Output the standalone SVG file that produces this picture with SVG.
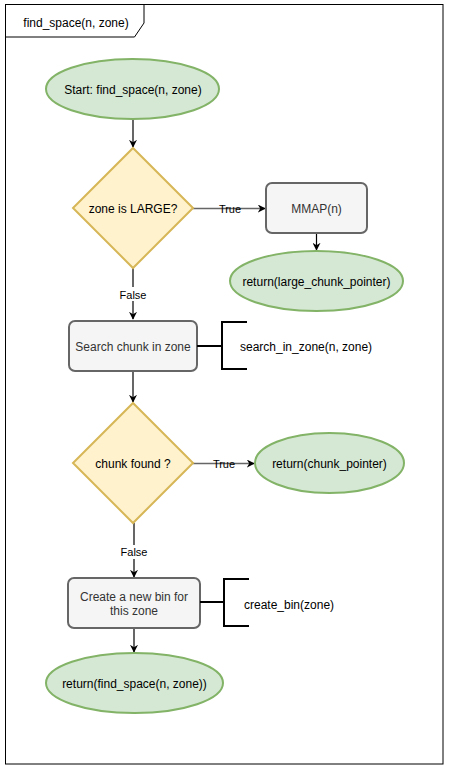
<svg xmlns="http://www.w3.org/2000/svg" width="449" height="769" viewBox="0 0 449 769">
<defs>
<marker id="arr" viewBox="0 0 10 10" refX="9" refY="5" markerWidth="8" markerHeight="8" markerUnits="userSpaceOnUse" orient="auto">
<path d="M0,0 L10,5 L0,10 L3,5 Z" fill="#000"/>
</marker>
<style>
text{font-family:"Liberation Sans",Arial,sans-serif;font-size:12px;fill:#000;text-anchor:middle}
.term{fill:#d5e8d4;stroke:#82b366;stroke-width:2}
.dec{fill:#fff2cc;stroke:#d6b656;stroke-width:2}
.proc{fill:#f5f5f5;stroke:#666666;stroke-width:2}
.proc-t{fill:#333333}
.edge{fill:none;stroke:#000;stroke-width:1.2}
.gedge{fill:none;stroke:#666666;stroke-width:1.5}
.br{fill:none;stroke:#000;stroke-width:2}
.lbl{font-size:11px}
.left{text-anchor:start}
</style>
</defs>
<rect width="449" height="769" fill="#fff"/>
<g id="frame">
<rect x="5.5" y="4.5" width="437.5" height="759.5" fill="none" stroke="#000" stroke-width="1"/>
<path d="M5.5,37 H134.5 L144,23 V4.5" fill="none" stroke="#000" stroke-width="1"/>
<text x="76" y="27" style="font-size:12px">find_space(n, zone)</text>
</g>
<g id="connectors">
<path class="edge" d="M133,119 V147" marker-end="url(#arr)"/>
<path class="gedge" d="M193,208.5 H265" marker-end="url(#arr)"/>
<path class="edge" d="M316.5,233 V250" marker-end="url(#arr)"/>
<path class="edge" d="M133,268 V319" marker-end="url(#arr)"/>
<path class="edge" d="M133,371 V402" marker-end="url(#arr)"/>
<path class="gedge" d="M193,463.5 H254" marker-end="url(#arr)"/>
<path class="edge" d="M134,523 V577" marker-end="url(#arr)"/>
<path class="edge" d="M134,628 V652" marker-end="url(#arr)"/>
<text class="lbl" x="230" y="212.5">True</text>
<rect x="118" y="287" width="30" height="14" fill="#fff"/>
<text class="lbl" x="133" y="298.5">False</text>
<text class="lbl" x="224" y="467.5">True</text>
<rect x="119" y="545" width="30" height="14" fill="#fff"/>
<text class="lbl" x="134" y="556">False</text>
</g>
<g id="start">
<ellipse class="term" cx="132.5" cy="89" rx="86.5" ry="30"/>
<text x="133" y="93.5">Start: find_space(n, zone)</text>
</g>
<g id="is-large">
<path class="dec" d="M133,148 L193,208 L133,268 L73,208 Z"/>
<text x="133" y="213">zone is LARGE?</text>
</g>
<g id="mmap">
<rect class="proc" x="266" y="183" width="101" height="50" rx="6"/>
<text class="proc-t" x="316.5" y="212.5">MMAP(n)</text>
</g>
<g id="ret-large">
<ellipse class="term" cx="316.5" cy="281" rx="86.5" ry="30"/>
<text x="316.5" y="285.5">return(large_chunk_pointer)</text>
</g>
<g id="search">
<rect class="proc" x="69" y="321" width="128" height="50" rx="6"/>
<text class="proc-t" x="133" y="350.5">Search chunk in zone</text>
</g>
<g id="search-note">
<path class="br" d="M197,346 H222 M247,322 H222 V369 H247"/>
<text class="left" x="240" y="350.5">search_in_zone(n, zone)</text>
</g>
<g id="found">
<path class="dec" d="M133,403 L193,463 L133,523 L73,463 Z"/>
<text x="133" y="467.5">chunk found ?</text>
</g>
<g id="ret-chunk">
<ellipse class="term" cx="329.5" cy="463" rx="74.5" ry="30"/>
<text x="329.5" y="467.5">return(chunk_pointer)</text>
</g>
<g id="create">
<rect class="proc" x="68" y="578" width="132" height="50" rx="6"/>
<text class="proc-t" x="134" y="601">Create a new bin for</text>
<text class="proc-t" x="134" y="615">this zone</text>
</g>
<g id="create-note">
<path class="br" d="M200,602 H224 M249,579 H224 V626 H249"/>
<text class="left" x="244" y="609">create_bin(zone)</text>
</g>
<g id="ret-find">
<ellipse class="term" cx="134.5" cy="683" rx="88.5" ry="30"/>
<text x="134.5" y="687.5">return(find_space(n, zone))</text>
</g>
</svg>
